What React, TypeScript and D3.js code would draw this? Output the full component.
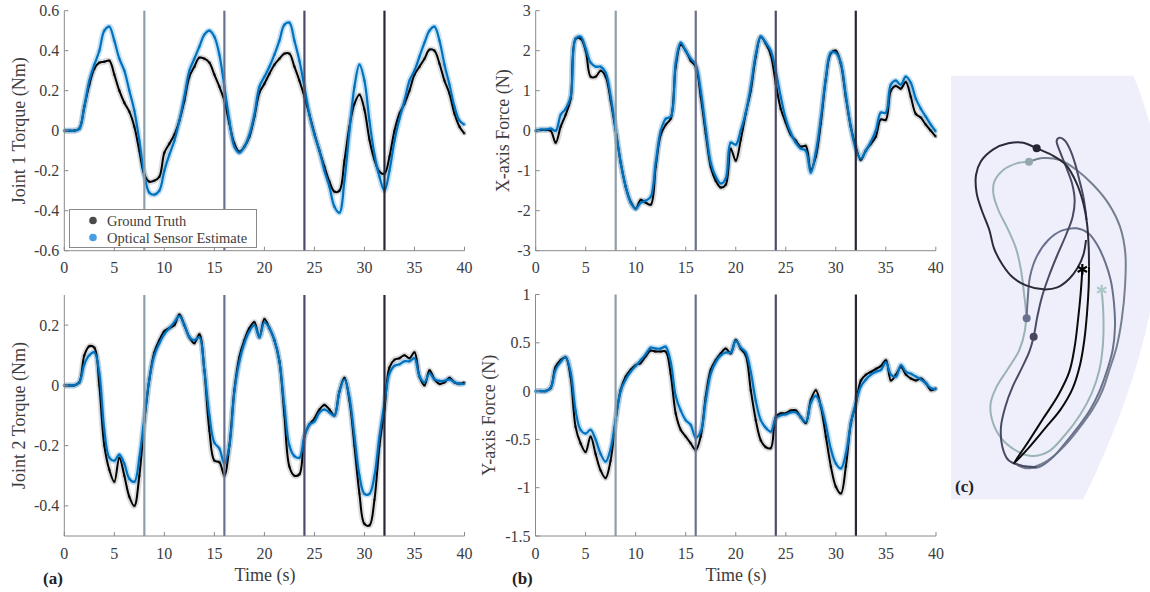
import React from 'react';
import * as d3 from 'd3';

// ---------------- DATA ----------------
const TIME_STEP = 0.5; // seconds between samples
const timeTicks = [0, 5, 10, 15, 20, 25, 30, 35, 40];
const eventTimes = [8, 16, 24, 32];
const eventColors = ['#8d9faa', '#6a718c', '#4b4c69', '#262634'];
const legendLabels = ['Ground Truth', 'Optical Sensor Estimate'];

const j1Ticks = [-0.6, -0.4, -0.2, 0, 0.2, 0.4, 0.6];
const j2Ticks = [-0.4, -0.2, 0, 0.2];
const fxTicks = [-3, -2, -1, 0, 1, 2, 3];
const fyTicks = [-1.5, -1, -0.5, 0, 0.5, 1];

const j1Truth = [
  0, 0, 0, 0.01, 0.12, 0.23, 0.31, 0.34, 0.345, 0.35,
  0.28, 0.2, 0.14, 0.095, 0.02, -0.1, -0.22, -0.255, -0.25, -0.23,
  -0.11, -0.065, -0.02, 0.05, 0.15, 0.27, 0.32, 0.365, 0.36, 0.34,
  0.28, 0.22, 0.15, 0.035, -0.065, -0.105, -0.08, -0.03, 0.07, 0.19,
  0.235, 0.285, 0.33, 0.36, 0.385, 0.385, 0.32, 0.25, 0.17, 0.08,
  -0.015, -0.1, -0.18, -0.255, -0.305, -0.3, -0.15, 0.02, 0.135, 0.18,
  0.105, -0.045, -0.145, -0.205, -0.215, -0.13, 0, 0.085, 0.135, 0.2,
  0.28, 0.32, 0.36, 0.405, 0.4, 0.335, 0.25, 0.185, 0.085, 0.02,
  -0.015,
];
const j1Est = [
  0, 0, 0, 0.01, 0.12, 0.25, 0.33, 0.4, 0.5, 0.52,
  0.45, 0.36, 0.3, 0.2, 0.1, -0.05, -0.22, -0.31, -0.32, -0.3,
  -0.2, -0.12, -0.05, 0.05, 0.17, 0.3, 0.36, 0.42, 0.48, 0.5,
  0.47, 0.38, 0.22, 0.05, -0.08, -0.11, -0.08, -0.02, 0.08, 0.22,
  0.27, 0.32, 0.38, 0.45, 0.53, 0.54, 0.45, 0.35, 0.22, 0.08,
  -0.02, -0.1, -0.2, -0.28, -0.38, -0.41, -0.25, 0, 0.22, 0.33,
  0.25, 0.05, -0.12, -0.23, -0.3, -0.2, -0.05, 0.06, 0.15, 0.25,
  0.3, 0.37, 0.44, 0.5, 0.52, 0.45, 0.33, 0.23, 0.12, 0.05,
  0.03,
];
const j2Truth = [
  0, 0, 0, 0.01, 0.1, 0.13, 0.125, 0, -0.2, -0.28,
  -0.32, -0.24, -0.3, -0.37, -0.4, -0.3, -0.12, 0.02, 0.11, 0.15,
  0.18, 0.19, 0.2, 0.235, 0.2, 0.16, 0.14, 0.17, 0.05, -0.15,
  -0.25, -0.255, -0.3, -0.2, -0.015, 0.095, 0.15, 0.19, 0.21, 0.16,
  0.22, 0.19, 0.15, 0.08, -0.1, -0.27, -0.3, -0.295, -0.17, -0.13,
  -0.11, -0.08, -0.065, -0.08, -0.1, -0.02, 0.025, -0.05, -0.2, -0.36,
  -0.46, -0.465, -0.38, -0.2, -0.08, 0.06, 0.085, 0.09, 0.1, 0.09,
  0.11, 0.03, 0, 0.05, 0.02, 0.005, 0.01, 0.025, 0.01, 0.005,
  0.01,
];
const j2Est = [
  0, 0, 0, 0.01, 0.07, 0.1, 0.11, 0.04, -0.15, -0.24,
  -0.25, -0.23, -0.26, -0.31, -0.32, -0.24, -0.11, 0.02, 0.1, 0.14,
  0.17, 0.19, 0.21, 0.23, 0.2, 0.16, 0.15, 0.16, 0.05, -0.1,
  -0.19, -0.21, -0.26, -0.2, -0.02, 0.08, 0.14, 0.18, 0.2, 0.16,
  0.21, 0.19, 0.15, 0.08, -0.07, -0.2, -0.235, -0.24, -0.17, -0.13,
  -0.12, -0.09, -0.08, -0.09, -0.1, -0.02, 0.02, -0.04, -0.17, -0.3,
  -0.36, -0.36, -0.3, -0.17, -0.06, 0.04, 0.065, 0.07, 0.08, 0.08,
  0.09, 0.03, 0.01, 0.04, 0.02, 0.015, 0.015, 0.02, 0.01, 0.005,
  0.005,
];
const fxTruth = [
  0, 0.02, 0.02, 0, -0.3, 0.1, 0.4, 0.8, 2.3, 2.3,
  2, 1.35, 1.35, 1.5, 1.35, 0.75, 0, -0.8, -1.4, -1.78,
  -1.95, -1.73, -1.8, -1.85, -0.9, -0.1, 0.15, 0.3, 1.6, 2.15,
  2, 1.75, 1.6, 0.85, -0.07, -0.9, -1.25, -1.42, -1.35, -0.45,
  -0.75, -0.23, 0.43, 1, 1.85, 2.35, 2.18, 1.9, 1.18, 0.55,
  0.2, -0.1, -0.25, -0.4, -0.38, -0.98, -0.65, 0.18, 1.27, 1.93,
  2, 1.68, 0.85, 0.1, -0.4, -0.73, -0.5, -0.33, -0.15, 0.28,
  0.27, 1, 1.12, 1.05, 1.22, 0.85, 0.42, 0.33, 0.15, 0,
  -0.15,
];
const fxEst = [
  0, 0.03, 0.03, 0.05, 0, 0.4, 0.55, 0.85, 2.3, 2.35,
  2.05, 1.7, 1.6, 1.6, 1.45, 0.85, 0.02, -0.8, -1.4, -1.8,
  -1.95, -1.8, -1.75, -1.65, -0.8, 0, 0.3, 0.35, 1.7, 2.2,
  2, 1.8, 1.65, 1, 0.05, -0.8, -1.15, -1.32, -1.2, -0.3,
  -0.35, 0, 0.45, 1.1, 1.9, 2.35, 2.2, 2, 1.5, 0.85,
  0.3, -0.05, -0.3, -0.45, -0.5, -1.05, -0.55, 0.3, 1.3, 1.95,
  1.95, 1.7, 0.9, 0.1, -0.45, -0.7, -0.5, -0.28, 0, 0.45,
  0.45, 1.15, 1.25, 1.15, 1.35, 1.2, 0.8, 0.55, 0.35, 0.15,
  -0.02,
];
const fyTruth = [
  0, 0, 0, 0.03, 0.25, 0.32, 0.35, 0.15, -0.37, -0.54,
  -0.63, -0.47, -0.65, -0.82, -0.9, -0.72, -0.3, 0.01, 0.15, 0.22,
  0.27, 0.29, 0.36, 0.42, 0.41, 0.41, 0.41, 0.18, -0.23, -0.4,
  -0.47, -0.54, -0.61, -0.47, -0.06, 0.22, 0.32, 0.39, 0.44, 0.39,
  0.53, 0.44, 0.37, 0.01, -0.3, -0.51, -0.58, -0.59, -0.27, -0.23,
  -0.23, -0.2, -0.2, -0.27, -0.33, -0.09, 0.01, -0.16, -0.47, -0.78,
  -0.99, -1.06, -0.78, -0.33, -0.13, 0.11, 0.17, 0.2, 0.23, 0.26,
  0.32, 0.11, 0.17, 0.25, 0.17, 0.13, 0.11, 0.13, 0.08, 0.01,
  0.03,
];
const fyEst = [
  0, 0, 0, 0.03, 0.22, 0.3, 0.35, 0.2, -0.2, -0.4,
  -0.44, -0.4, -0.5, -0.65, -0.73, -0.6, -0.3, 0, 0.12, 0.2,
  0.26, 0.32, 0.38, 0.45, 0.44, 0.44, 0.46, 0.3, -0.05, -0.2,
  -0.3, -0.35, -0.48, -0.42, -0.1, 0.18, 0.3, 0.37, 0.4, 0.4,
  0.52, 0.45, 0.4, 0.2, -0.1, -0.3, -0.38, -0.42, -0.28, -0.25,
  -0.24, -0.22, -0.22, -0.27, -0.32, -0.12, -0.05, -0.15, -0.35, -0.6,
  -0.75, -0.8, -0.65, -0.33, -0.12, 0.05, 0.12, 0.17, 0.2, 0.22,
  0.3, 0.17, 0.15, 0.27, 0.2, 0.18, 0.15, 0.12, 0.08, 0.03,
  0.02,
];

// Panel (c): end-effector path pieces in workspace units
const workspaceBoundary = [[33, 47], [580, 47], [800, 560], [430, 1318], [33, 1318]];
const traceBlack = [[427, 628], [422, 700], [414, 780], [404, 860], [388, 935], [355, 1005], [310, 1075], [265, 1145], [222, 1210], [262, 1168], [315, 1105], [362, 1048], [398, 985], [420, 915], [433, 840], [441, 760], [446, 680], [447, 620]];
const traceNavy = [[447, 620], [446, 560], [441, 490], [430, 430], [410, 370], [378, 315], [335, 285], [290, 265], [250, 248], [205, 250], [160, 268], [122, 305], [108, 345], [110, 400], [125, 450], [148, 510], [162, 565], [188, 615], [218, 652], [258, 676], [310, 688], [352, 682], [388, 656], [412, 625], [430, 585], [438, 540]];
const traceDark = [[440, 480], [430, 410], [418, 360], [405, 310], [390, 268], [375, 242], [358, 233], [350, 242], [360, 275], [378, 320], [396, 370], [404, 420], [398, 470], [378, 525], [352, 585], [328, 645], [306, 710], [292, 770], [281, 830], [268, 875], [245, 925], [218, 980], [196, 1040], [183, 1100], [187, 1160], [205, 1200], [240, 1216], [290, 1222]];
const traceSlate = [[260, 775], [263, 720], [270, 650], [290, 590], [325, 540], [365, 512], [410, 505], [445, 520], [472, 555], [495, 605], [512, 660], [522, 730], [525, 800], [518, 870], [500, 935], [478, 995], [450, 1050], [415, 1100], [375, 1150], [335, 1195], [295, 1222], [255, 1220], [225, 1210]];
const traceLight = [[485, 690], [490, 760], [489, 850], [478, 930], [455, 1000], [420, 1065], [375, 1125], [325, 1175], [275, 1188], [225, 1170], [180, 1130], [155, 1075], [152, 1030], [170, 980], [205, 925], [238, 870], [255, 810], [258, 760], [252, 700], [243, 630], [228, 565], [200, 500], [175, 450], [160, 400], [163, 365], [190, 330], [230, 310], [267, 305]];
const traceOuter = [[267, 305], [310, 294], [360, 300], [410, 330], [460, 375], [505, 430], [540, 500], [556, 580], [555, 680], [545, 780], [530, 860], [508, 930], [488, 990], [460, 1045], [425, 1095], [385, 1145], [345, 1185], [305, 1212], [262, 1225], [232, 1215]];
const traceMarkers = [[290, 265], [267, 305], [260, 775], [281, 830]];
const traceMarkerColors = ['#262634', '#93a9ad', '#6a718c', '#46475f'];
const startPoint = [427, 628];
const endPoint = [485, 690];

// ---------------- COMPONENT ----------------
const FONT = "'Liberation Serif', 'DejaVu Serif', serif";
const TEXT = '#3d3d3d';
const AXIS = '#8a8a8a';
const BLUE = '#0072bd';
const BLUE_DOT = '#4da2df';

type PanelDef = {
  truth: number[]; est: number[]; domain: [number, number]; ticks: number[];
  x0: number; x1: number; yTop: number; yBot: number; label: string; labelX: number; legend?: boolean;
};

const panels: PanelDef[] = [
  { truth: j1Truth, est: j1Est, domain: [-0.6, 0.6], ticks: j1Ticks, x0: 64.3, x1: 464.5, yTop: 10.7, yBot: 250.7, label: 'Joint 1 Torque (Nm)', labelX: 19, legend: true },
  { truth: j2Truth, est: j2Est, domain: [-0.5, 0.3], ticks: j2Ticks, x0: 64.3, x1: 464.5, yTop: 295, yBot: 536, label: 'Joint 2 Torque (Nm)', labelX: 19 },
  { truth: fxTruth, est: fxEst, domain: [-3, 3], ticks: fxTicks, x0: 535.7, x1: 935.8, yTop: 10.7, yBot: 250.7, label: 'X-axis Force (N)', labelX: 503 },
  { truth: fyTruth, est: fyEst, domain: [-1.5, 1], ticks: fyTicks, x0: 535.5, x1: 936, yTop: 294.5, yBot: 536, label: 'Y-axis Force (N)', labelX: 489 },
];

function Panel({ p }: { p: PanelDef }) {
  const x = d3.scaleLinear().domain([0, 40]).range([p.x0, p.x1]);
  const y = d3.scaleLinear().domain(p.domain).range([p.yBot, p.yTop]);
  const toPts = (arr: number[]) => arr.map((v, i) => [i * TIME_STEP, v] as [number, number]);
  const line = d3.line<[number, number]>().x(d => x(d[0])).y(d => y(d[1])).curve(d3.curveCatmullRom.alpha(0.5));
  const tPts = toPts(p.truth);
  const ePts = toPts(p.est);
  const midY = (p.yTop + p.yBot) / 2;
  return (
    <g>
      {/* scatter clouds */}
      <path d={line(tPts) || ''} fill="none" stroke="#555" strokeOpacity={0.2} strokeWidth={6} strokeLinejoin="round" />
      {tPts.map((d, i) => <circle key={'t' + i} cx={x(d[0])} cy={y(d[1])} r={1.6} fill="#333" fillOpacity={0.5} />)}
      <path d={line(ePts) || ''} fill="none" stroke={BLUE_DOT} strokeOpacity={0.32} strokeWidth={6} strokeLinejoin="round" />
      {ePts.map((d, i) => <circle key={'e' + i} cx={x(d[0])} cy={y(d[1])} r={1.6} fill={BLUE_DOT} fillOpacity={0.65} />)}
      {/* lines */}
      <path d={line(tPts) || ''} fill="none" stroke="#000" strokeWidth={2} />
      <path d={line(ePts) || ''} fill="none" stroke={BLUE} strokeWidth={2.2} />
      {/* event lines */}
      {eventTimes.map((t, i) => (
        <line key={'ev' + i} x1={x(t)} x2={x(t)} y1={p.yTop} y2={p.yBot} stroke={eventColors[i]} strokeWidth={2.2} />
      ))}
      {/* axes */}
      <line x1={p.x0} x2={p.x0} y1={p.yTop} y2={p.yBot} stroke={AXIS} strokeWidth={1} />
      <line x1={p.x0} x2={p.x1} y1={p.yBot} y2={p.yBot} stroke={AXIS} strokeWidth={1} />
      {p.ticks.map((v, i) => (
        <g key={'yt' + i}>
          <line x1={p.x0} x2={p.x0 + 4} y1={y(v)} y2={y(v)} stroke={AXIS} />
          <text x={p.x0 - 5} y={y(v)} dy="0.35em" textAnchor="end" fontSize={16} fill={TEXT} fontFamily={FONT}>{String(v)}</text>
        </g>
      ))}
      {timeTicks.map((t, i) => (
        <g key={'xt' + i}>
          <line x1={x(t)} x2={x(t)} y1={p.yBot} y2={p.yBot - 4} stroke={AXIS} />
          <text x={x(t)} y={p.yBot + 17} dy="0.35em" textAnchor="middle" fontSize={16} fill={TEXT} fontFamily={FONT}>{String(t)}</text>
        </g>
      ))}
      <text transform={`translate(${p.labelX},${midY}) rotate(-90)`} dy="0.35em" textAnchor="middle" fontSize={18} fill={TEXT} fontFamily={FONT}>{p.label}</text>
      {p.legend && (
        <g>
          <rect x={69.5} y={209.5} width={187} height={38} fill="#fff" stroke={AXIS} strokeWidth={1} />
          {legendLabels.map((lab, i) => (
            <g key={lab}>
              <circle cx={93} cy={220.5 + i * 17} r={3.8} fill={i === 0 ? '#4a4a4a' : '#4a9de0'} />
              <text x={107} y={220.5 + i * 17} dy="0.35em" fontSize={14.5} fill={TEXT} fontFamily={FONT}>{lab}</text>
            </g>
          ))}
        </g>
      )}
    </g>
  );
}

function Workspace() {
  const cx = d3.scaleLinear().domain([0, 630]).range([940, 1150]);
  const cy = d3.scaleLinear().domain([0, 1350]).range([60, 510]);
  const b = workspaceBoundary.map(([a, c]) => [cx(a), cy(c)]);
  const bg = d3.path();
  bg.moveTo(b[0][0], b[0][1]);
  bg.lineTo(b[1][0], b[1][1]);
  bg.quadraticCurveTo(b[2][0], b[2][1], b[3][0], b[3][1]);
  bg.lineTo(b[4][0], b[4][1]);
  bg.closePath();
  const line = d3.line<number[]>().x(d => cx(d[0])).y(d => cy(d[1])).curve(d3.curveCatmullRom.alpha(0.5));
  const traces: [number[][], string][] = [
    [traceOuter, '#76808f'],
    [traceLight, '#9ab3b4'],
    [traceSlate, '#6a718c'],
    [traceDark, '#4a4b64'],
    [traceNavy, '#2a2a3a'],
    [traceBlack, '#0a0a0a'],
  ];
  const star = d3.symbol().type(d3.symbolAsterisk).size(80)();
  return (
    <g>
      <path d={bg.toString()} fill="#efeffc" />
      {traces.map(([pts, col], i) => (
        <path key={'tr' + i} d={line(pts) || ''} fill="none" stroke={col} strokeWidth={2} strokeLinejoin="round" />
      ))}
      {traceMarkers.map((m, i) => (
        <circle key={'mk' + i} cx={cx(m[0])} cy={cy(m[1])} r={4} fill={traceMarkerColors[i]} />
      ))}
      <path d={star || ''} transform={`translate(${cx(startPoint[0])},${cy(startPoint[1])})`} stroke="#000" strokeWidth={2.2} fill="none" />
      <path d={star || ''} transform={`translate(${cx(endPoint[0])},${cy(endPoint[1])})`} stroke="#a9c8c8" strokeWidth={2.2} fill="none" />
      <text x={955} y={486} dy="0.35em" fontSize={17} fontWeight="bold" fill="#222" fontFamily={FONT}>(c)</text>
    </g>
  );
}

export default function App() {
  return (
    <svg width={1150} height={592} style={{ position: 'absolute', left: 0, top: 0, background: '#fff' }}>
      <rect width={1150} height={592} fill="#fff" />
      {panels.map((p, i) => <Panel key={i} p={p} />)}
      <text x={265} y={575} dy="0.35em" textAnchor="middle" fontSize={18} fill={TEXT} fontFamily={FONT}>Time (s)</text>
      <text x={736} y={575} dy="0.35em" textAnchor="middle" fontSize={18} fill={TEXT} fontFamily={FONT}>Time (s)</text>
      <text x={43} y={578} dy="0.35em" fontSize={17} fontWeight="bold" fill="#222" fontFamily={FONT}>(a)</text>
      <text x={512} y={578} dy="0.35em" fontSize={17} fontWeight="bold" fill="#222" fontFamily={FONT}>(b)</text>
      <Workspace />
    </svg>
  );
}
